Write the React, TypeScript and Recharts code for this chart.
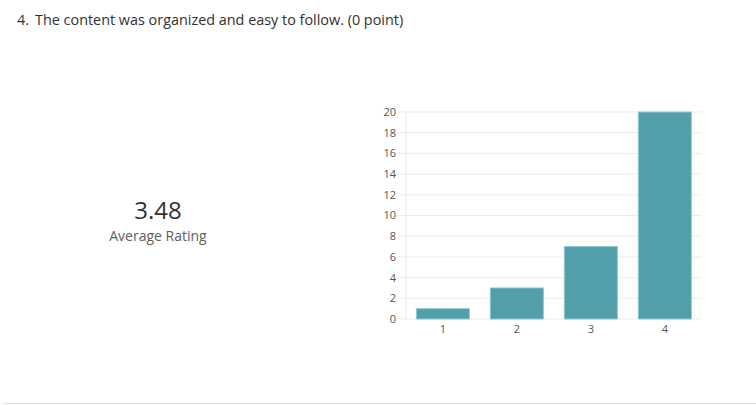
import React from 'react';
import { BarChart, Bar, XAxis, YAxis, CartesianGrid } from 'recharts';

const ratings = ['1', '2', '3', '4'];
const counts = [1, 3, 7, 20];
const yTicks = [0, 2, 4, 6, 8, 10, 12, 14, 16, 18, 20];

const FONT = '"Open Sans", "Noto Sans", sans-serif';
const GRID = '#ebebeb';

const data = ratings.map((r, i) => ({ rating: r, count: counts[i] }));

export default function App() {
  return (
    <div
      style={{
        position: 'absolute',
        left: 0,
        top: 0,
        width: 756,
        height: 405,
        background: '#fff',
        fontFamily: FONT,
        overflow: 'hidden',
      }}
    >
      <div
        style={{
          position: 'absolute',
          left: 17,
          top: 10,
          fontSize: 14.4,
          color: '#323130',
          whiteSpace: 'nowrap',
        }}
      >
        <span style={{ marginRight: 6 }}>4.</span>
        The content was organized and easy to follow. (0 point)
      </div>

      <div
        style={{
          position: 'absolute',
          left: 58,
          top: 194,
          width: 200,
          textAlign: 'center',
        }}
      >
        <div style={{ fontSize: 24, color: '#323130', lineHeight: '32px' }}>3.48</div>
        <div style={{ fontSize: 14, color: '#605e5c', lineHeight: '20px' }}>Average Rating</div>
      </div>

      <div style={{ position: 'absolute', left: 360, top: 100 }}>
        <BarChart
          width={350}
          height={250}
          data={data}
          margin={{ top: 12, right: 8, left: 0, bottom: 0 }}
          barCategoryGap="14%"
        >
          <CartesianGrid vertical={false} stroke={GRID} />
          <XAxis
            dataKey="rating"
            axisLine={false}
            tickLine={false}
            tickSize={4}
            tickMargin={2}
            height={31}
            tick={{ fontSize: 11, fill: '#555', fontFamily: FONT }}
          />
          <YAxis
            domain={[0, 20]}
            ticks={yTicks}
            interval={0}
            width={46}
            axisLine={{ stroke: GRID }}
            tickLine={{ stroke: GRID }}
            tickSize={8}
            tickMargin={2}
            tick={{ fontSize: 11, fill: '#555', fontFamily: FONT }}
          />
          <Bar
            dataKey="count"
            fill="#529fac"
            stroke="#8fc6ce"
            strokeWidth={1}
            isAnimationActive={false}
          />
        </BarChart>
      </div>

      <div
        style={{
          position: 'absolute',
          left: 3,
          right: 0,
          top: 403,
          height: 1,
          background: '#e1e1e1',
        }}
      />
    </div>
  );
}
